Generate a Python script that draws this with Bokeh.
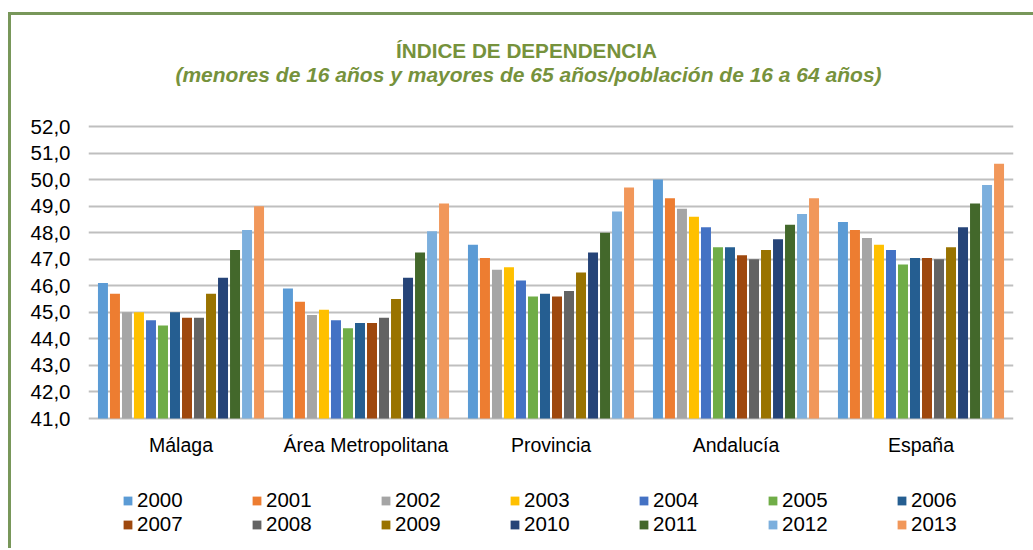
from bokeh.plotting import figure
from bokeh.models import (FactorRange, Range1d, FixedTicker, CustomJSTickFormatter,
                          Legend, LegendItem, Label, ColumnDataSource)
from bokeh.transform import dodge
from bokeh.embed import file_html
from bokeh.resources import INLINE

categories = ["Málaga", "Área Metropolitana", "Provincia", "Andalucía", "España"]
years = ["2000", "2001", "2002", "2003", "2004", "2005", "2006",
         "2007", "2008", "2009", "2010", "2011", "2012", "2013"]
colors = ["#5B9BD5", "#ED7D31", "#A5A5A5", "#FFC000", "#4472C4", "#70AD47", "#255E91",
          "#9E480E", "#636363", "#997300", "#264478", "#43682B", "#7CAFDD", "#F1975A"]

malaga = [46.1, 45.7, 45.0, 45.0, 44.7, 44.5, 45.0, 44.8, 44.8, 45.7, 46.3, 47.35, 48.1, 49.0]
area_metropolitana = [45.9, 45.4, 44.9, 45.1, 44.7, 44.4, 44.6, 44.6, 44.8, 45.5, 46.3, 47.25, 48.05, 49.1]
provincia = [47.55, 47.05, 46.6, 46.7, 46.2, 45.6, 45.7, 45.6, 45.8, 46.5, 47.25, 48.0, 48.8, 49.7]
andalucia = [50.0, 49.3, 48.9, 48.6, 48.2, 47.45, 47.45, 47.15, 47.0, 47.35, 47.75, 48.3, 48.7, 49.3]
espana = [48.4, 48.1, 47.8, 47.55, 47.35, 46.8, 47.05, 47.05, 47.0, 47.45, 48.2, 49.1, 49.8, 50.6]

title_text = "ÍNDICE DE DEPENDENCIA"
subtitle_text = "(menores de 16 años y mayores de 65 años/población de 16 a 64 años)"
y_ticks = [41, 42, 43, 44, 45, 46, 47, 48, 49, 50, 51, 52]
y_min, y_max = 41, 52

series = [malaga, area_metropolitana, provincia, andalucia, espana]
data = {"cat": categories}
for j, y in enumerate(years):
    data[y] = [s[j] for s in series]
source = ColumnDataSource(data)

FONT = "Liberation Sans"
GREEN = "#76923C"
BORDER = "#78975A"

# layout (pixels): canvas height, value-axis top/bottom positions
H = 548
AX_TOP, AX_BOT = 126, 418
ppu = (AX_BOT - AX_TOP) / (y_max - y_min)
y_range = Range1d(y_min - (H - AX_BOT) / ppu, y_max + AX_TOP / ppu)

p = figure(width=1033, height=H, x_range=FactorRange(*categories, range_padding=0),
           y_range=y_range, output_backend="svg", toolbar_location=None,
           min_border_left=88, min_border_right=20, min_border_top=0, min_border_bottom=0)
grad = "linear-gradient(%s, %s)" % (BORDER, BORDER)
p.styles = {"background-image": grad + ", " + grad,
            "background-size": "3px 100%, 100% 3px",
            "background-position": "8px 12px, 8px 12px",
            "background-repeat": "no-repeat"}
p.outline_line_color = None
p.background_fill_color = None
p.border_fill_color = None

slot = 0.0649
bw = 0.054
items = []
for j, y in enumerate(years):
    r = p.vbar(x=dodge("cat", (j - 6.5) * slot, range=p.x_range), top=y, bottom=y_min,
               width=bw, source=source, fill_color=colors[j], line_color=None)
    items.append(LegendItem(label=y, renderers=[r]))

p.yaxis.ticker = FixedTicker(ticks=y_ticks)
p.yaxis.formatter = CustomJSTickFormatter(code="return tick.toFixed(1).replace('.', ',');")
p.yaxis.axis_line_color = None
p.yaxis.major_tick_line_color = None
p.yaxis.major_tick_out = 0
p.yaxis.minor_tick_line_color = None
p.yaxis.major_label_standoff = 18
p.yaxis.major_label_text_font = FONT
p.yaxis.major_label_text_font_size = "20.5px"
p.yaxis.major_label_text_color = "#000000"

p.xaxis.fixed_location = y_min
p.xaxis.axis_line_color = None
p.xaxis.major_tick_line_color = None
p.xaxis.major_tick_out = 0
p.xaxis.major_label_standoff = 15
p.xaxis.major_label_text_font = FONT
p.xaxis.major_label_text_font_size = "19.5px"
p.xaxis.major_label_text_color = "#000000"

p.xgrid.grid_line_color = None
p.ygrid.ticker = FixedTicker(ticks=y_ticks)
p.ygrid.grid_line_color = "#BFBFBF"
p.ygrid.grid_line_width = 2

legend = Legend(items=items, ncols=7, orientation="horizontal", location=(34, 12),
                glyph_width=11, glyph_height=11, label_standoff=4, label_width=114,
                label_height=23, spacing=0, padding=0, margin=0,
                label_text_font=FONT, label_text_font_size="20.5px", label_text_color="#000000",
                border_line_color=None, background_fill_alpha=0)
p.add_layout(legend, "center")

p.add_layout(Label(x=438, y=H - 50, x_units="screen", y_units="screen", text=title_text,
                   text_align="center", text_baseline="alphabetic", text_font=FONT,
                   text_font_style="bold", text_font_size="20.7px", text_color=GREEN))
p.add_layout(Label(x=440, y=H - 74, x_units="screen", y_units="screen", text=subtitle_text,
                   text_align="center", text_baseline="alphabetic", text_font=FONT,
                   text_font_style="bold italic", text_font_size="21px", text_color=GREEN))

open("out.html", "w").write(file_html(p, INLINE))
